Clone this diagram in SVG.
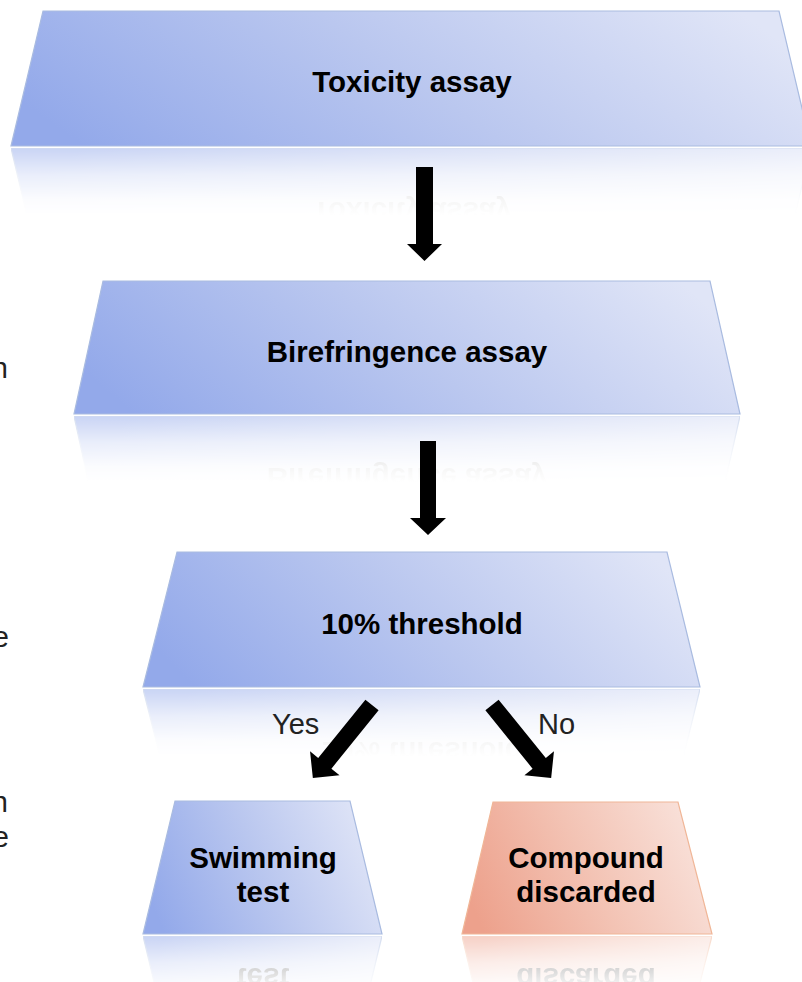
<svg xmlns="http://www.w3.org/2000/svg" xmlns:xlink="http://www.w3.org/1999/xlink" width="802" height="982" viewBox="0 0 802 982">
<style>
.lbl{font-family:"Liberation Sans",Arial,sans-serif;font-weight:bold;font-size:29.5px;fill:#000;text-anchor:middle}
.reg{font-family:"Liberation Sans",Arial,sans-serif;font-size:29px;fill:#222}
.blue{fill:url(#gBlue);stroke:#a9bbe0;stroke-width:1.2}
.orange{fill:url(#gOrange);stroke:#f0b697;stroke-width:1.2}
.arrow{fill:#000}
</style>
<defs>
<linearGradient id="gBlue" x1="0" y1="0.62" x2="1" y2="0.38">
<stop offset="0" stop-color="#93a9ea"/>
<stop offset="0.5" stop-color="#bac7ef"/>
<stop offset="1" stop-color="#e0e5f7"/>
</linearGradient>
<linearGradient id="gOrange" x1="0" y1="0.62" x2="1" y2="0.38">
<stop offset="0" stop-color="#eda18c"/>
<stop offset="0.5" stop-color="#f3c3b4"/>
<stop offset="1" stop-color="#f9e2db"/>
</linearGradient>
<linearGradient id="fade" x1="0" y1="0" x2="0" y2="1">
<stop offset="0" stop-color="#fff" stop-opacity="0"/>
<stop offset="0.5" stop-color="#fff" stop-opacity="0"/>
<stop offset="0.62" stop-color="#fff" stop-opacity="0.04"/>
<stop offset="0.8" stop-color="#fff" stop-opacity="0.2"/>
<stop offset="1" stop-color="#fff" stop-opacity="0.5"/>
</linearGradient>
<mask id="refl" maskContentUnits="objectBoundingBox">
<rect x="0" y="0" width="1" height="1" fill="url(#fade)"/>
</mask>
</defs>
<rect width="802" height="982" fill="#fff"/>

<g id="side-text">
<text class="reg" x="8" y="378" text-anchor="end">n</text>
<text class="reg" x="9" y="647" text-anchor="end">e</text>
<text class="reg" x="8" y="812" text-anchor="end">n</text>
<text class="reg" x="9" y="847" text-anchor="end">e</text>
</g>

<g id="toxicity">
<g transform="translate(0,294) scale(1,-1)" mask="url(#refl)">
<polygon class="blue" points="43,11 779,11 811,146 11,146"/>
<text class="lbl" x="412" y="92">Toxicity assay</text>
</g>
<polygon class="blue" points="43,11 779,11 811,146 11,146"/>
<text class="lbl" x="412" y="92">Toxicity assay</text>
</g>

<g id="birefringence">
<g transform="translate(0,830) scale(1,-1)" mask="url(#refl)">
<polygon class="blue" points="103,281 710,281 740,414 74,414"/>
<text class="lbl" x="407" y="362">Birefringence assay</text>
</g>
<polygon class="blue" points="103,281 710,281 740,414 74,414"/>
<text class="lbl" x="407" y="362">Birefringence assay</text>
</g>

<g id="threshold">
<g transform="translate(0,1376) scale(1,-1)" mask="url(#refl)">
<polygon class="blue" points="177,552 667,552 700,687 143,687"/>
<text class="lbl" x="422" y="634">10% threshold</text>
</g>
<polygon class="blue" points="177,552 667,552 700,687 143,687"/>
<text class="lbl" x="422" y="634">10% threshold</text>
</g>

<g id="swimming">
<g transform="translate(0,1870) scale(1,-1)" mask="url(#refl)">
<polygon class="blue" points="175,801 350,801 382,934 143,934"/>
<text class="lbl" x="263" y="868">Swimming</text>
<text class="lbl" x="263" y="902">test</text>
</g>
<polygon class="blue" points="175,801 350,801 382,934 143,934"/>
<text class="lbl" x="263" y="868">Swimming</text>
<text class="lbl" x="263" y="902">test</text>
</g>

<g id="discarded">
<g transform="translate(0,1870) scale(1,-1)" mask="url(#refl)">
<polygon class="orange" points="493,802 678,802 712,934 462,934"/>
<text class="lbl" x="586" y="868">Compound</text>
<text class="lbl" x="586" y="902">discarded</text>
</g>
<polygon class="orange" points="493,802 678,802 712,934 462,934"/>
<text class="lbl" x="586" y="868">Compound</text>
<text class="lbl" x="586" y="902">discarded</text>
</g>

<g id="connectors">
<path class="arrow" d="M416,167 H433 V244 H442 L424.5,261 L407,244 H416 Z"/>
<path class="arrow" d="M420,441 H436 V518 H446 L428,535 L410,518 H420 Z"/>
<path class="arrow" transform="translate(372,705) rotate(39)" d="M-8.5,0 H8.5 V75 H19 L0,94 L-19,75 H-8.5 Z"/>
<path class="arrow" transform="translate(492,705) rotate(-39)" d="M-8.5,0 H8.5 V75 H19 L0,94 L-19,75 H-8.5 Z"/>
<text class="reg" x="272" y="734">Yes</text>
<text class="reg" x="538" y="734">No</text>
</g>
</svg>
